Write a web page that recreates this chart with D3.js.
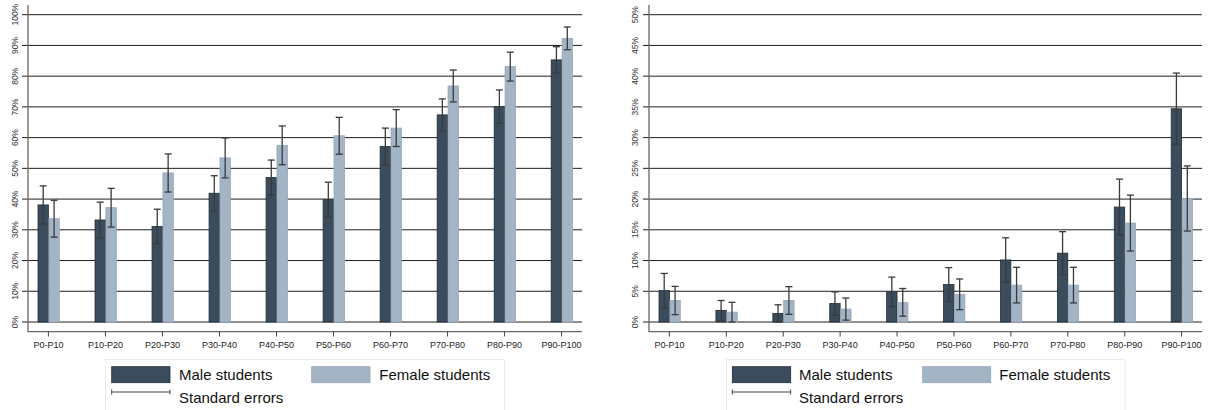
<!DOCTYPE html>
<html>
<head>
<meta charset="utf-8">
<script src="https://cdn.jsdelivr.net/npm/d3@7"></script>
<style>
html,body{margin:0;padding:0;background:#fff;}
svg{display:block;font-family:"Liberation Sans",Arial,Helvetica,sans-serif;}
</style>
</head>
<body>
<svg id="chart" width="1208" height="410"></svg>
<script>
const categories = ["P0-P10","P10-P20","P20-P30","P30-P40","P40-P50","P50-P60","P60-P70","P70-P80","P80-P90","P90-P100"];

// Left panel (percent)
const maleLeft     = [38.1, 33.2, 31.1, 41.9, 47.0, 39.8, 57.1, 67.4, 70.1, 85.3];
const maleLeftSE   = [6.2, 5.8, 5.6, 5.7, 5.7, 5.7, 6.0, 5.2, 5.4, 4.3];
const femaleLeft   = [33.6, 37.2, 48.5, 53.4, 57.5, 60.6, 63.1, 76.8, 83.1, 92.3];
const femaleLeftSE = [6.0, 6.3, 6.2, 6.5, 6.3, 6.0, 6.0, 5.2, 4.7, 3.7];
const leftTicks    = [0,10,20,30,40,50,60,70,80,90,100];

// Right panel (percent)
const maleRight     = [5.1, 1.9, 1.4, 3.0, 4.9, 6.1, 10.1, 11.2, 18.7, 34.7];
const maleRightSE   = [2.8, 1.6, 1.4, 1.9, 2.4, 2.75, 3.6, 3.5, 4.55, 5.8];
const femaleRight   = [3.5, 1.6, 3.5, 2.1, 3.2, 4.5, 6.0, 6.0, 16.1, 20.1];
const femaleRightSE = [2.3, 1.6, 2.25, 1.8, 2.25, 2.5, 2.9, 2.9, 4.55, 5.3];
const rightTicks    = [0,5,10,15,20,25,30,35,40,45,50];

const seriesNames = ["Male students","Female students"];
const errorLabel = "Standard errors";

const MALE = "#3b4c5d", MALE_EDGE = "#1f2d3a";
const FEMALE = "#a3b4c5", FEMALE_EDGE = "#93a6b9";
const ERR = "#3a3a3a";

const svg = d3.select("#chart");

function panel(opt){
  const g = svg.append("g");
  const y = d3.scaleLinear().domain([0, opt.max]).range([322, 14.7]);
  const x = d3.scalePoint().domain(categories).range([opt.x0 + 20.4, opt.x1 - 20.4]);

  // gridlines
  g.selectAll("line.grid").data(opt.ticks).enter().append("line")
    .attr("x1", opt.x0 - 6).attr("x2", opt.x1)
    .attr("y1", d => y(d)).attr("y2", d => y(d))
    .attr("stroke", "#1e1e1e").attr("stroke-width", 1);

  // y axis line
  g.append("line").attr("x1", opt.x0).attr("x2", opt.x0)
    .attr("y1", 5).attr("y2", 332).attr("stroke", "#666").attr("stroke-width", 1.3);

  // y tick labels (rotated)
  g.selectAll("text.yl").data(opt.ticks).enter().append("text")
    .attr("transform", d => `translate(${opt.x0 - opt.labOff},${y(d)}) rotate(-90)`)
    .attr("text-anchor", "middle").attr("font-size", 8.5).attr("fill", "#333")
    .text(d => d + "%");

  // x axis
  g.append("line").attr("x1", opt.x0).attr("x2", opt.x1)
    .attr("y1", 331.7).attr("y2", 331.7).attr("stroke", "#666").attr("stroke-width", 1.3);
  g.selectAll("line.xt").data(categories).enter().append("line")
    .attr("x1", d => x(d)).attr("x2", d => x(d))
    .attr("y1", 331.7).attr("y2", 336.5).attr("stroke", "#444").attr("stroke-width", 1);
  g.selectAll("text.xl").data(categories).enter().append("text")
    .attr("x", d => x(d)).attr("y", 347.7)
    .attr("text-anchor", "middle").attr("font-size", 9).attr("fill", "#222")
    .text(d => d);

  const bw = 10.4;
  const series = [
    {vals: opt.male, se: opt.maleSE, fill: MALE, edge: MALE_EDGE, off: -10.4},
    {vals: opt.female, se: opt.femaleSE, fill: FEMALE, edge: FEMALE_EDGE, off: 0.5}
  ];
  series.forEach(s => {
    g.selectAll(null).data(categories).enter().append("rect")
      .attr("x", (d) => x(d) + s.off)
      .attr("y", (d,i) => y(s.vals[i]))
      .attr("width", bw)
      .attr("height", (d,i) => y(0) - y(s.vals[i]))
      .attr("fill", s.fill).attr("stroke", s.edge).attr("stroke-width", 0.8);
  });
  series.forEach(s => {
    const eg = g.selectAll(null).data(categories).enter().append("g")
      .attr("stroke", ERR).attr("stroke-width", 1.3);
    const cx = d => x(d) + s.off + bw/2;
    eg.append("line").attr("x1", cx).attr("x2", cx)
      .attr("y1", (d,i) => y(s.vals[i] + s.se[i])).attr("y2", (d,i) => y(s.vals[i] - s.se[i]));
    eg.append("line").attr("x1", d => cx(d) - 3.5).attr("x2", d => cx(d) + 3.5)
      .attr("y1", (d,i) => y(s.vals[i] + s.se[i])).attr("y2", (d,i) => y(s.vals[i] + s.se[i]));
    eg.append("line").attr("x1", d => cx(d) - 3.5).attr("x2", d => cx(d) + 3.5)
      .attr("y1", (d,i) => y(s.vals[i] - s.se[i])).attr("y2", (d,i) => y(s.vals[i] - s.se[i]));
  });

  // legend
  const L = opt.leg;
  const lg = g.append("g");
  lg.append("rect").attr("x", L.bx0).attr("y", 359.5).attr("width", L.bx1 - L.bx0).attr("height", 60)
    .attr("fill", "#fff").attr("stroke", "#e6ecf0").attr("stroke-width", 1);
  lg.append("rect").attr("x", L.m0).attr("y", 366.7).attr("width", L.m1 - L.m0).attr("height", 16)
    .attr("fill", MALE).attr("stroke", MALE_EDGE).attr("stroke-width", 0.8);
  lg.append("text").attr("x", L.mt).attr("y", 379.5).attr("font-size", 15).attr("fill", "#111").text(seriesNames[0]);
  lg.append("rect").attr("x", L.f0).attr("y", 366.7).attr("width", L.f1 - L.f0).attr("height", 16)
    .attr("fill", FEMALE).attr("stroke", FEMALE_EDGE).attr("stroke-width", 0.8);
  lg.append("text").attr("x", L.ft).attr("y", 379.5).attr("font-size", 15).attr("fill", "#111").text(seriesNames[1]);
  const ey = 392;
  lg.append("line").attr("x1", L.m0).attr("x2", L.m1).attr("y1", ey).attr("y2", ey).attr("stroke", "#444").attr("stroke-width", 1.2);
  lg.append("line").attr("x1", L.m0).attr("x2", L.m0).attr("y1", ey - 2.5).attr("y2", ey + 2.5).attr("stroke", "#444").attr("stroke-width", 1);
  lg.append("line").attr("x1", L.m1).attr("x2", L.m1).attr("y1", ey - 2.5).attr("y2", ey + 2.5).attr("stroke", "#444").attr("stroke-width", 1);
  lg.append("text").attr("x", L.mt).attr("y", 402.7).attr("font-size", 15).attr("fill", "#111").text(errorLabel);
}

panel({x0: 28, x1: 582, max: 100, ticks: leftTicks, labOff: 10.5,
  male: maleLeft, maleSE: maleLeftSE, female: femaleLeft, femaleSE: femaleLeftSE,
  leg: {bx0: 105.5, bx1: 504.5, m0: 111.7, m1: 170, mt: 179, f0: 311.7, f1: 370, ft: 379.3}});
panel({x0: 649, x1: 1202, max: 50, ticks: rightTicks, labOff: 11.5,
  male: maleRight, maleSE: maleRightSE, female: femaleRight, femaleSE: femaleRightSE,
  leg: {bx0: 726.5, bx1: 1125, m0: 732.3, m1: 790.7, mt: 799, f0: 922.7, f1: 990.7, ft: 999.3}});
</script>
</body>
</html>
